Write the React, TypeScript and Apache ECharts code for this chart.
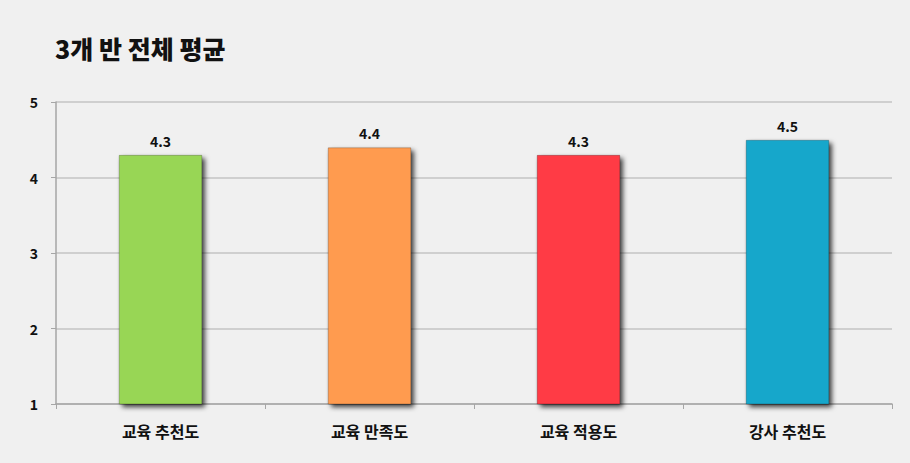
import React, { useEffect, useRef } from "react";
import * as echarts from "echarts";

const categories = ["교육 추천도", "교육 만족도", "교육 적용도", "강사 추천도"];
const averages = [4.3, 4.4, 4.3, 4.5];
const barColors = ["#98d654", "#ff9b50", "#ff3a45", "#17a7cb"];
const yTicks = { min: 1, max: 5, interval: 1 };

const FONT = "'Noto Sans CJK KR', 'Noto Sans', sans-serif";

export default function App() {
  const ref = useRef<HTMLDivElement>(null);

  useEffect(() => {
    document.body.style.margin = "0";
    const chart = echarts.init(ref.current!, undefined, { renderer: "svg" });
    chart.setOption({
      animation: false,
      backgroundColor: "#f0f0f0",
      title: {
        text: "3개 반 전체 평균",
        left: 50,
        top: 30,
        textStyle: { fontFamily: FONT, fontSize: 25, fontWeight: 900, color: "#111" },
      },
      grid: { left: 56, right: 18, top: 102, bottom: 59 },
      xAxis: {
        type: "category",
        data: categories,
        axisLine: { show: true, lineStyle: { color: "#a6a6a6", width: 1.5 } },
        axisTick: { show: true, alignWithLabel: false, length: 5, lineStyle: { color: "#a6a6a6" } },
        axisLabel: {
          margin: 19,
          fontFamily: FONT,
          fontSize: 16,
          fontWeight: "bold",
          color: "#111",
        },
      },
      yAxis: {
        type: "value",
        min: yTicks.min,
        max: yTicks.max,
        interval: yTicks.interval,
        axisLine: { show: true, lineStyle: { color: "#a6a6a6", width: 1.5 } },
        axisTick: { show: true, length: 5, lineStyle: { color: "#a6a6a6" } },
        splitLine: { show: true, lineStyle: { color: "#c4c4c4", width: 1.5 } },
        axisLabel: {
          margin: 18,
          fontFamily: FONT,
          fontSize: 14,
          fontWeight: "bold",
          color: "#111",
        },
      },
      series: [
        {
          type: "bar",
          barWidth: "40%",
          data: averages.map((v, i) => ({
            value: v,
            itemStyle: {
              color: barColors[i],
              borderColor: "rgba(0,0,0,0.22)",
              borderWidth: 1,
              shadowColor: "rgba(0,0,0,0.75)",
              shadowBlur: 5,
              shadowOffsetX: 3,
              shadowOffsetY: 3,
            },
          })),
          label: {
            show: true,
            position: "top",
            distance: 7,
            fontFamily: FONT,
            fontSize: 14,
            fontWeight: "bold",
            color: "#111",
            formatter: (p: any) => Number(p.value).toFixed(1),
          },
        },
      ],
    });
    return () => chart.dispose();
  }, []);

  return <div ref={ref} style={{ width: 910, height: 463 }} />;
}
